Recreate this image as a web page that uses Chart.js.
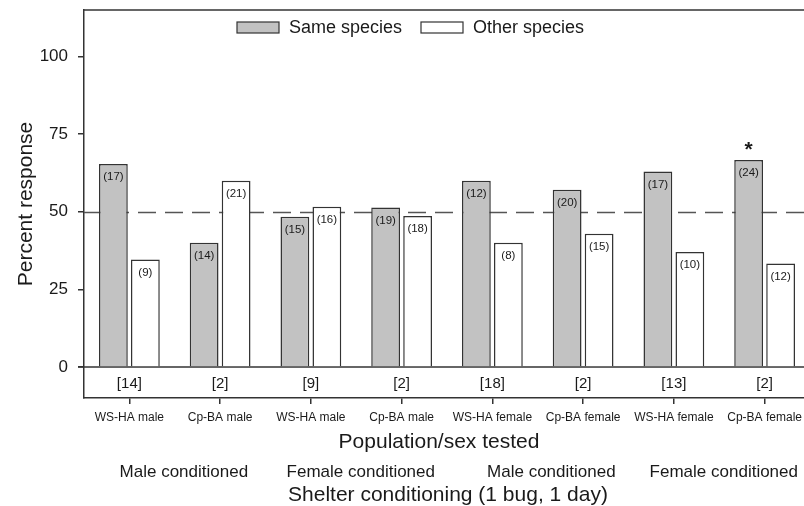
<!DOCTYPE html>
<html>
<head>
<meta charset="utf-8">
<script src="https://cdn.jsdelivr.net/npm/chart.js@4"></script>
<style>
  html, body { margin: 0; padding: 0; background: #fff; overflow: hidden; }
  #wrap { width: 804px; height: 506px; overflow: hidden; }
  canvas { display: block; }
</style>
</head>
<body>
<div id="wrap"><canvas id="c" width="812" height="506"></canvas></div>
<script>
// Population/sex tested on each shelter type
const categories = ['WS-HA male', 'Cp-BA male', 'WS-HA male', 'Cp-BA male',
                    'WS-HA female', 'Cp-BA female', 'WS-HA female', 'Cp-BA female'];
// Percent choosing each shelter
const sameSpecies  = [65.4, 40.0, 48.4, 51.4, 60.0, 57.1, 63.0, 66.7];
const otherSpecies = [34.6, 60.0, 51.6, 48.6, 40.0, 42.9, 37.0, 33.3];
// Number of bugs behind each bar
const sameCounts  = [17, 14, 15, 19, 12, 20, 17, 24];
const otherCounts = [9, 21, 16, 18, 8, 15, 10, 12];
// Bugs that made no choice
const noChoice = [14, 2, 9, 2, 18, 2, 13, 2];
// Significance marks over the same-species bars
const sigMarks = ['', '', '', '', '', '', '', '*'];
// Conditioning groups (each spans two categories)
const conditioning = ['Male conditioned', 'Female conditioned', 'Male conditioned', 'Female conditioned'];
const yTicks = [0, 25, 50, 75, 100];
const seriesNames = ['Same species', 'Other species'];

const FONT = "'Liberation Sans', Arial, Helvetica, sans-serif";
const INK = '#1a1a1a';
const LINE = '#333333';

const annotations = {
  id: 'annotations',
  beforeDatasetsDraw(chart) {
    const { ctx, chartArea: a, scales: { y } } = chart;
    ctx.save();
    // chance line at 50 %
    ctx.strokeStyle = '#555';
    ctx.lineWidth = 1.5;
    ctx.setLineDash([18, 9]);
    ctx.beginPath();
    const y50 = Math.round(y.getPixelForValue(50)) + 0.5;
    ctx.moveTo(a.left, y50);
    ctx.lineTo(a.right, y50);
    ctx.stroke();
    ctx.setLineDash([]);
    // zero line
    ctx.strokeStyle = LINE;
    const y0 = y.getPixelForValue(0);
    ctx.beginPath();
    ctx.moveTo(a.left - 6, y0);
    ctx.lineTo(a.right, y0);
    ctx.stroke();
    ctx.restore();
  },
  afterDatasetsDraw(chart) {
    const { ctx, scales: { x, y } } = chart;
    ctx.save();
    ctx.fillStyle = INK;
    ctx.textAlign = 'center';
    ctx.textBaseline = 'middle';
    // counts inside the bars
    ctx.font = '11.5px ' + FONT;
    const counts = [sameCounts, otherCounts];
    counts.forEach((arr, di) => {
      chart.getDatasetMeta(di).data.forEach((bar, i) => {
        ctx.fillText('(' + arr[i] + ')', bar.x, bar.y + 13);
      });
    });
    // no-choice numbers under the zero line
    ctx.font = '15px ' + FONT;
    noChoice.forEach((n, i) => {
      ctx.fillText('[' + n + ']', x.getPixelForValue(i), y.getPixelForValue(-5.4));
    });
    // significance marks
    ctx.font = 'bold 21px ' + FONT;
    ctx.textBaseline = 'alphabetic';
    chart.getDatasetMeta(0).data.forEach((bar, i) => {
      if (sigMarks[i]) ctx.fillText(sigMarks[i], bar.x, bar.y - 4);
    });
    ctx.restore();
  },
  afterDraw(chart) {
    const { ctx, chartArea: a, scales: { x } } = chart;
    ctx.save();
    // top frame line
    ctx.strokeStyle = LINE;
    ctx.lineWidth = 1.5;
    ctx.beginPath();
    ctx.moveTo(a.left, a.top);
    ctx.lineTo(a.right, a.top);
    ctx.stroke();

    // legend
    const entries = [
      { label: seriesNames[0], fill: '#c2c2c2', box: 237, text: 289 },
      { label: seriesNames[1], fill: '#ffffff', box: 421, text: 473 }
    ];
    ctx.font = '18px ' + FONT;
    ctx.textBaseline = 'middle';
    ctx.textAlign = 'left';
    entries.forEach(e => {
      ctx.fillStyle = e.fill;
      ctx.fillRect(e.box, 22, 42, 11);
      ctx.strokeStyle = LINE;
      ctx.lineWidth = 1.2;
      ctx.strokeRect(e.box, 22, 42, 11);
      ctx.fillStyle = INK;
      ctx.fillText(e.label, e.text, 28);
    });

    // axis titles
    ctx.textAlign = 'center';
    ctx.font = '21px ' + FONT;
    ctx.fillText('Population/sex tested', 439, 442);
    ctx.fillText('Shelter conditioning (1 bug, 1 day)', 448, 495);
    ctx.font = '17px ' + FONT;
    const spots = [0.6, 2.55, 4.65, 6.55];
    conditioning.forEach((t, i) => {
      ctx.fillText(t, x.getPixelForValue(spots[i]), 472);
    });
    ctx.save();
    ctx.translate(26, (a.top + a.bottom) / 2);
    ctx.rotate(-Math.PI / 2);
    ctx.font = '21px ' + FONT;
    ctx.fillText('Percent response', 0, 0);
    ctx.restore();
    ctx.restore();
  }
};

new Chart(document.getElementById('c'), {
  type: 'bar',
  data: {
    labels: categories,
    datasets: [
      { label: seriesNames[0], data: sameSpecies, backgroundColor: '#c2c2c2',
        borderColor: LINE, borderWidth: 1.5 },
      { label: seriesNames[1], data: otherSpecies, backgroundColor: '#ffffff',
        borderColor: LINE, borderWidth: 1.5 }
    ]
  },
  options: {
    responsive: false,
    animation: false,
    devicePixelRatio: 1,
    categoryPercentage: 0.705,
    barPercentage: 0.9,
    layout: { padding: { top: 10, right: 2, left: 0, bottom: 0 } },
    plugins: { legend: { display: false }, tooltip: { enabled: false } },
    scales: {
      x: {
        grid: { display: true, drawOnChartArea: false, drawTicks: true, tickLength: 6,
                offset: false, color: LINE, lineWidth: 1.5 },
        border: { display: true, color: LINE, width: 1.5 },
        ticks: { font: { family: FONT, size: 12 }, color: INK, padding: 6,
                 maxRotation: 0, autoSkip: false },
        afterFit(s) { s.height = 108; s.paddingLeft = 0; s.paddingRight = 0; }
      },
      y: {
        min: -10,
        max: 115,
        afterBuildTicks(s) { s.ticks = yTicks.map(v => ({ value: v })); },
        grid: { display: true, drawOnChartArea: false, drawTicks: true, tickLength: 6,
                color: LINE, lineWidth: 1.5 },
        border: { display: true, color: LINE, width: 1.5 },
        ticks: { font: { family: FONT, size: 17 }, color: INK, padding: 10 },
        afterFit(s) { s.width = 84; s.paddingTop = 0; s.paddingBottom = 0; }
      }
    }
  },
  plugins: [annotations]
});
</script>
</body>
</html>
